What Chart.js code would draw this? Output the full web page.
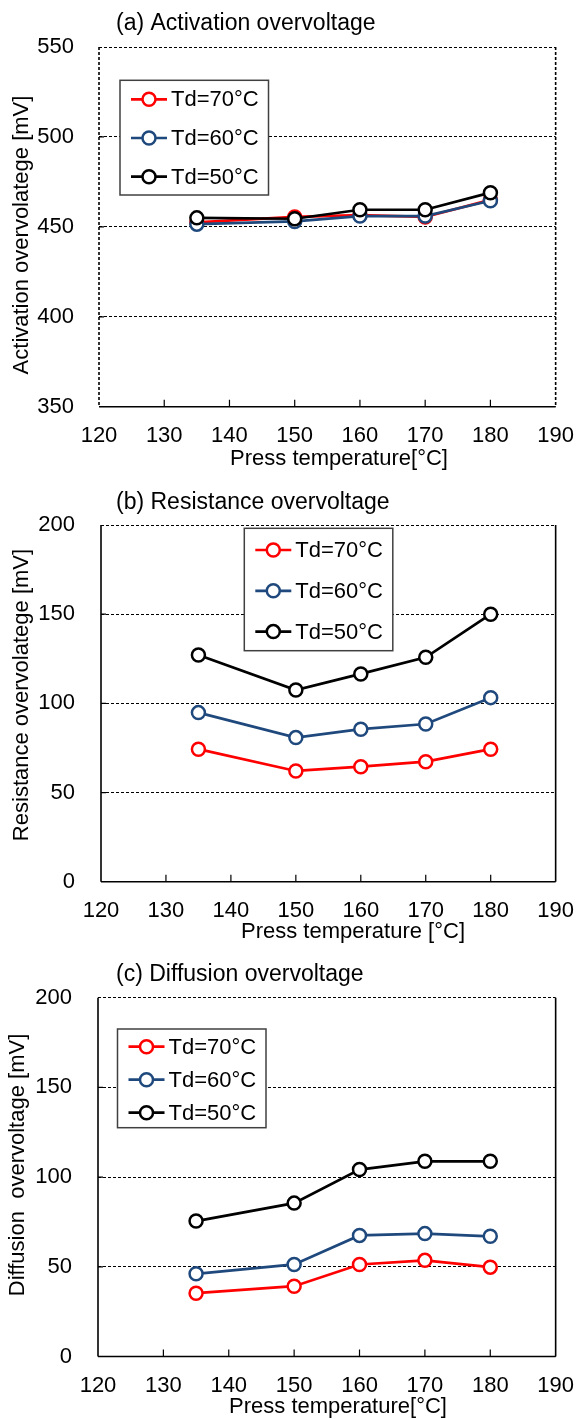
<!DOCTYPE html>
<html>
<head>
<meta charset="utf-8">
<script src="https://cdn.jsdelivr.net/npm/chart.js@4.4.1/dist/chart.umd.min.js"></script>
<style>
body { margin: 0; background: #fff; }
canvas { display: block; }
</style>
</head>
<body>
<canvas id="chartA" width="582" height="470"></canvas>
<canvas id="chartB" width="582" height="475"></canvas>
<canvas id="chartC" width="582" height="474"></canvas>
<script>
// press temperature [°C] on the x axis
const pressTemps = [135, 150, 160, 170, 180];
const seriesLabels = ['Td=70°C', 'Td=60°C', 'Td=50°C'];
const seriesColors = ['#ff0000', '#1f497d', '#000000'];

// (a) activation overvoltage [mV]
const activationTd70 = [452.5, 455.5, 456.5, 455.5, 465];
const activationTd60 = [451.5, 453, 456, 456, 464.5];
const activationTd50 = [455, 454.5, 459.5, 459.5, 469];

// (b) resistance overvoltage [mV]
const resistanceTd70 = [74.3, 62.1, 64.5, 67.3, 74.3];
const resistanceTd60 = [94.8, 80.8, 85.5, 88.4, 103.2];
const resistanceTd50 = [127.1, 107.5, 116.5, 125.8, 150];

// (c) diffusion overvoltage [mV]
const diffusionTd70 = [35.3, 39.2, 51.3, 53.6, 49.8];
const diffusionTd60 = [46.1, 51.3, 67.5, 68.5, 67];
const diffusionTd50 = [75.5, 85.5, 104.2, 108.8, 108.8];

const xTicks = [120, 130, 140, 150, 160, 170, 180, 190];

const fontFamily = '"Liberation Sans", Arial, sans-serif';
Chart.defaults.font.family = fontFamily;
Chart.defaults.color = '#000';

function makeDatasets(values) {
    return values.map((vals, i) => ({
        label: seriesLabels[i],
        data: pressTemps.map((t, j) => ({ x: t, y: vals[j] })),
        borderColor: seriesColors[i],
        backgroundColor: '#fff',
        pointBackgroundColor: '#fff',
        pointBorderColor: seriesColors[i],
        pointRadius: 6.5,
        pointBorderWidth: 2.5,
        borderWidth: 2.7,
        order: 3 - i
    }));
}

// frame + inside tick marks
const framePlugin = {
    id: 'frame',
    afterDraw(chart, args, opts) {
        const { ctx, chartArea: a, scales: { x, y } } = chart;
        ctx.save();
        ctx.strokeStyle = '#000';
        ctx.lineWidth = 1.6;
        ctx.setLineDash(opts.leftDash || []);
        ctx.beginPath();
        ctx.moveTo(a.left, a.top);
        ctx.lineTo(a.left, a.bottom);
        ctx.stroke();
        ctx.setLineDash([]);
        ctx.beginPath();
        ctx.moveTo(a.left, a.bottom);
        ctx.lineTo(a.right, a.bottom);
        ctx.stroke();
        ctx.setLineDash(opts.rightDash || []);
        ctx.beginPath();
        ctx.moveTo(a.right, a.top);
        ctx.lineTo(a.right, a.bottom);
        ctx.stroke();
        ctx.setLineDash([]);
        ctx.lineWidth = 1.2;
        ctx.beginPath();
        x.ticks.forEach(t => {
            const px = x.getPixelForValue(t.value);
            if (px > a.left + 1 && px < a.right - 1) {
                ctx.moveTo(px, a.bottom);
                ctx.lineTo(px, a.bottom - 7);
            }
        });
        y.ticks.forEach(t => {
            const py = y.getPixelForValue(t.value);
            if (py > a.top + 1 && py < a.bottom - 1) {
                ctx.moveTo(a.left, py);
                ctx.lineTo(a.left + 5, py);
            }
        });
        ctx.stroke();
        ctx.restore();
    }
};

// boxed legend inside the plot
const boxLegendPlugin = {
    id: 'boxLegend',
    afterDraw(chart, args, opts) {
        const ctx = chart.ctx;
        ctx.save();
        ctx.fillStyle = '#fff';
        ctx.fillRect(opts.left, opts.top, opts.width, opts.height);
        ctx.strokeStyle = '#404040';
        ctx.lineWidth = 1.5;
        ctx.strokeRect(opts.left, opts.top, opts.width, opts.height);
        chart.data.datasets.forEach((ds, i) => {
            const rowY = opts.top + opts.firstRow + i * opts.rowGap;
            ctx.strokeStyle = ds.borderColor;
            ctx.lineWidth = ds.borderWidth;
            ctx.beginPath();
            ctx.moveTo(opts.left + 11, rowY);
            ctx.lineTo(opts.left + 47, rowY);
            ctx.stroke();
            ctx.beginPath();
            ctx.arc(opts.left + 29, rowY, 6.5, 0, Math.PI * 2);
            ctx.fillStyle = '#fff';
            ctx.fill();
            ctx.lineWidth = ds.pointBorderWidth;
            ctx.stroke();
            ctx.fillStyle = '#000';
            ctx.font = '22px ' + fontFamily;
            ctx.textBaseline = 'middle';
            ctx.textAlign = 'left';
            ctx.fillText(ds.label, opts.left + 51, rowY + 1);
        });
        ctx.restore();
    }
};

// panel title and axis titles
const panelTextPlugin = {
    id: 'panelText',
    afterDraw(chart, args, opts) {
        const ctx = chart.ctx;
        ctx.save();
        ctx.fillStyle = '#000';
        ctx.textBaseline = 'middle';
        ctx.font = '23px ' + fontFamily;
        ctx.textAlign = 'left';
        ctx.fillText(opts.title, opts.titleX, opts.titleY);
        ctx.font = '22px ' + fontFamily;
        ctx.textAlign = 'center';
        ctx.fillText(opts.xTitle, opts.xTitleX, opts.xTitleY);
        ctx.translate(opts.yTitleX, opts.yTitleY);
        ctx.rotate(-Math.PI / 2);
        ctx.fillText(opts.yTitle, 0, 0);
        ctx.restore();
    }
};

function makeChart(id, cfg) {
    return new Chart(document.getElementById(id), {
        type: 'line',
        data: { datasets: makeDatasets(cfg.values) },
        options: {
            responsive: false,
            animation: false,
            layout: { padding: { top: cfg.top, right: 21, left: 0, bottom: 0 } },
            plugins: {
                legend: { display: false },
                tooltip: { enabled: false },
                frame: cfg.frame,
                boxLegend: cfg.legend,
                panelText: cfg.text
            },
            scales: {
                x: {
                    type: 'linear',
                    min: 120,
                    max: 190,
                    afterBuildTicks: scale => { scale.ticks = xTicks.map(v => ({ value: v })); },
                    grid: { display: false },
                    border: { display: false },
                    ticks: { padding: 8, font: { size: 22 }, color: '#000', maxRotation: 0 },
                    afterFit: scale => { scale.height = cfg.xHeight; }
                },
                y: {
                    min: cfg.yMin,
                    max: cfg.yMax,
                    grid: { color: '#000', lineWidth: 1, drawTicks: false },
                    border: { display: false, dash: [3, 2] },
                    ticks: { stepSize: 50, padding: cfg.yPad, font: { size: 22 }, color: '#000' },
                    afterFit: scale => { scale.width = cfg.yWidth; }
                }
            }
        },
        plugins: [framePlugin, boxLegendPlugin, panelTextPlugin]
    });
}

makeChart('chartA', {
    values: [activationTd70, activationTd60, activationTd50],
    yMin: 350, yMax: 550, top: 47, yWidth: 99, xHeight: 63.3, yPad: 25,
    frame: { leftDash: [3, 2], rightDash: [3, 2] },
    legend: { left: 120, top: 80.3, width: 148.5, height: 114.7, firstRow: 19, rowGap: 38.7 },
    text: {
        title: '(a) Activation overvoltage', titleX: 116, titleY: 24,
        xTitle: 'Press temperature[°C]', xTitleX: 339, xTitleY: 459,
        yTitle: 'Activation overvolatege [mV]', yTitleX: 22, yTitleY: 235
    }
});

makeChart('chartB', {
    values: [resistanceTd70, resistanceTd60, resistanceTd50],
    yMin: 0, yMax: 200, top: 55, yWidth: 101, xHeight: 63.3, yPad: 26,
    frame: {},
    legend: { left: 244.3, top: 58.3, width: 148.5, height: 122.4, firstRow: 21.7, rowGap: 40.8 },
    text: {
        title: '(b) Resistance overvoltage', titleX: 116, titleY: 33,
        xTitle: 'Press temperature [°C]', xTitleX: 353, xTitleY: 462,
        yTitle: 'Resistance overvolatege [mV]', yTitleX: 22, yTitleY: 225
    }
});

makeChart('chartC', {
    values: [diffusionTd70, diffusionTd60, diffusionTd50],
    yMin: 0, yMax: 200, top: 52.7, yWidth: 98, xHeight: 62.5, yPad: 26,
    frame: {},
    legend: { left: 117.5, top: 84, width: 148.5, height: 98.7, firstRow: 17.7, rowGap: 33 },
    text: {
        title: '(c) Diffusion overvoltage', titleX: 116, titleY: 30,
        xTitle: 'Press temperature[°C]', xTitleX: 338, xTitleY: 462,
        yTitle: 'Diffusion  overvoltage [mV]', yTitleX: 18, yTitleY: 220
    }
});
</script>
</body>
</html>
